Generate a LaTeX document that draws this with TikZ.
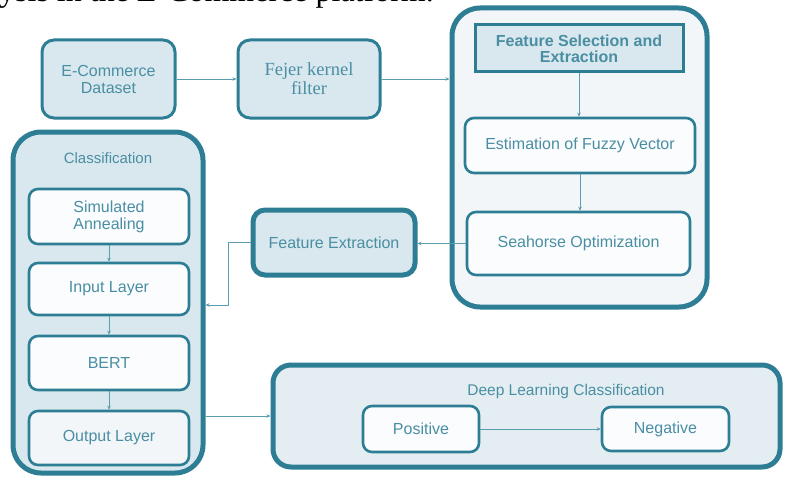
\documentclass[tikz,border=0pt]{standalone}
\usepackage{fontspec}
\setmainfont{Liberation Sans}
\newfontfamily\serifface{Liberation Serif}
\usetikzlibrary{arrows.meta,calc}
\definecolor{edge}{HTML}{2D7E95}
\definecolor{txt}{HTML}{4A8EA3}
\definecolor{lightfill}{HTML}{D9E8EE}
\definecolor{paleFill}{HTML}{F2F6F8}
\definecolor{whitefill}{HTML}{FAFCFD}
\definecolor{dlfill}{HTML}{E4EEF2}
\definecolor{wire}{HTML}{5A9CB0}
\tikzset{
  basebox/.style={draw=edge, text=txt, align=center, inner sep=2pt, font=\fontsize{16}{17}\selectfont},
  topbox/.style={basebox, fill=lightfill, line width=3pt, rounded corners=12pt},
  bigbox/.style={basebox, line width=5pt, rounded corners=28pt},
  innerbox/.style={basebox, fill=whitefill, line width=2.6pt, rounded corners=9pt},
  lbl/.style={text=txt, font=\fontsize{15.5}{17}\selectfont},
  arr/.style={draw=wire, line width=0.8pt, -{Stealth[length=4pt,width=3.5pt]}},
}
\begin{document}
\begin{tikzpicture}[x=1pt,y=-1pt]
\useasboundingbox (0,0) rectangle (802,476);
\clip (0,0) rectangle (802,476);
\node[anchor=base west, inner sep=0pt, font=\serifface\fontsize{32}{34}\selectfont] (cap) at (-1,1.5) {ysis in the E-Commerce platform.};
% top row
\node[topbox, minimum width=133pt, minimum height=78pt] (ds) at (108.5,79) {E-Commerce\\Dataset};
\node[topbox, minimum width=142pt, minimum height=78pt, font=\serifface\fontsize{18.5}{19}\selectfont] (fk) at (309,79) {Fejer kernel\\filter};
% feature selection group
\node[bigbox, fill=paleFill, minimum width=255pt, minimum height=299pt] (fse) at (579.5,157.5) {};
\node[basebox, fill=lightfill, line width=3pt, minimum width=208pt, minimum height=47pt, font=\bfseries\fontsize{16}{16}\selectfont] (fst) at (579,48.5) {Feature Selection and\\Extraction};
\node[innerbox, minimum width=230pt, minimum height=55pt] (est) at (580,145.5) {Estimation of Fuzzy Vector};
\node[innerbox, minimum width=223pt, minimum height=63pt] (sea) at (578.5,243.5) {Seahorse Optimization};
% feature extraction
\node[basebox, fill=lightfill, line width=5pt, rounded corners=12pt, minimum width=162pt, minimum height=65pt] (fe) at (334,242.5) {Feature Extraction};
% classification group
\node[bigbox, fill=lightfill, minimum width=190pt, minimum height=341pt] (cls) at (108,302.5) {};
\node[lbl, font=\fontsize{15}{17}\selectfont] (clsl) at (108,158) {Classification};
\node[innerbox, minimum width=160pt, minimum height=55pt] (sa) at (109,216.5) {Simulated\\Annealing};
\node[innerbox, minimum width=160pt, minimum height=52pt] (il) at (109,289) {Input Layer};
\node[innerbox, minimum width=160pt, minimum height=54pt] (bert) at (109,363) {BERT};
\node[innerbox, fill=paleFill, minimum width=160pt, minimum height=54pt] (ol) at (109,438) {Output Layer};
% deep learning group
\node[basebox, fill=dlfill, line width=5pt, rounded corners=18pt, minimum width=507pt, minimum height=102pt] (dl) at (526.5,416) {};
\node[lbl] (dll) at (566,391) {Deep Learning Classification};
\node[innerbox, minimum width=116pt, minimum height=46pt] (pos) at (421,429) {Positive};
\node[innerbox, minimum width=127pt, minimum height=44pt] (neg) at (665.5,429) {Negative};
% connectors
\draw[arr] (ds.east) -- (fk.west);
\draw[arr] (fk.east) -- (fk.east -| fse.west);
\draw[arr] (fst.south) -- (fst.south |- est.north);
\draw[arr] (est.south) -- (est.south |- sea.north);
\draw[arr] (sea.west) -- (sea.west -| fe.east);
\coordinate (bend) at (228,305);
\draw[arr] (fe.west) -| (bend) -- (bend -| cls.east);
\draw[arr] (sa.south) -- (il.north);
\draw[arr] (il.south) -- (bert.north);
\draw[arr] (bert.south) -- (ol.north);
\draw[arr] (cls.east |- dl.west) -- (dl.west);
\draw[arr] (pos.east) -- (neg.west);
\end{tikzpicture}
\end{document}
